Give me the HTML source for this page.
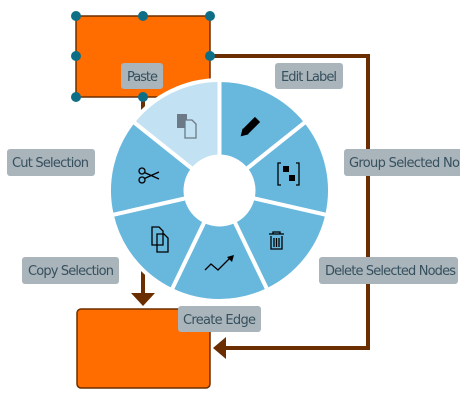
<!DOCTYPE html>
<html><head><meta charset="utf-8"><style>
html,body{margin:0;padding:0;background:#fff;width:460px;height:400px;overflow:hidden}
svg{display:block}
text{font-family:"DejaVu Sans","Liberation Sans",sans-serif;font-size:13px;fill:#37505e}
</style></head><body>
<svg id="s" width="460" height="400" viewBox="0 0 460 400">
<rect x="76" y="16" width="134" height="81" fill="#ff6c00" stroke="#6b2e00" stroke-width="1.5"/>
<rect x="77" y="309" width="133" height="79" rx="4" fill="#ff6c00" stroke="#6b2e00" stroke-width="1.5"/>
<polyline points="143,97 143,295" fill="none" stroke="#6b2e00" stroke-width="4"/>
<polygon points="131,293 155,293 143,306" fill="#6b2e00"/>
<polyline points="210,56 368,56 368,348 225,348" fill="none" stroke="#6b2e00" stroke-width="4"/>
<polygon points="226,337 226,359 213,348" fill="#6b2e00"/>
<g fill="#0e6e86">
<circle cx="76" cy="16" r="5"/><circle cx="143" cy="16" r="5"/><circle cx="210" cy="16" r="5"/>
<circle cx="76" cy="56" r="5"/><circle cx="210" cy="56" r="5"/>
<circle cx="76" cy="97" r="5"/><circle cx="143" cy="97" r="5"/>
</g>
<g id="wheel"></g>
<g id="icons" fill="none" stroke="#000" stroke-width="1.3"></g>
<g fill="#a9b4bb">
<rect x="121" y="63" width="42" height="26" rx="3"/>
<rect x="275" y="63" width="68" height="26" rx="3"/>
<rect x="7" y="149" width="88" height="27" rx="3"/>
<rect x="344" y="149" width="140" height="27" rx="3"/>
<rect x="22" y="257" width="97" height="27" rx="3"/>
<rect x="319" y="257" width="139" height="27" rx="3"/>
<rect x="178" y="306" width="83" height="26" rx="3"/>
</g>
<text x="127" y="81" textLength="31">Paste</text>
<text x="281" y="81" textLength="56">Edit Label</text>
<text x="12" y="167" textLength="77">Cut Selection</text>
<text x="349" y="167" textLength="132">Group Selected Nodes</text>
<text x="28" y="275" textLength="86">Copy Selection</text>
<text x="325" y="275" textLength="131">Delete Selected Nodes</text>
<text x="183" y="324" textLength="73">Create Edge</text>
</svg>
<script>
(function(){
var cx=219.5,cy=190.5,R=110.5,r=34,n=7,ns="http://www.w3.org/2000/svg";
var g=document.getElementById('wheel'),ic=document.getElementById('icons');
function pt(rad,a){return [cx+rad*Math.cos(a),cy+rad*Math.sin(a)];}
var step=2*Math.PI/n,start=-Math.PI/2;
for(var i=0;i<n;i++){
 var a0=start+i*step,a1=a0+step;
 var p1=pt(R,a0),p2=pt(R,a1),p3=pt(r,a1),p4=pt(r,a0);
 var d="M"+p1+" A"+R+","+R+" 0 0 1 "+p2+" L"+p3+" A"+r+","+r+" 0 0 0 "+p4+"Z";
 var p=document.createElementNS(ns,'path');
 p.setAttribute('d',d);p.setAttribute('fill',i==6?'#c2e1f2':'#68b7dd');
 p.setAttribute('stroke','#fff');p.setAttribute('stroke-width','4');p.setAttribute('stroke-linejoin','miter');
 g.appendChild(p);
}
var c=document.createElementNS(ns,'circle');c.setAttribute('cx',cx);c.setAttribute('cy',cy);c.setAttribute('r',r);c.setAttribute('fill','#fff');g.appendChild(c);
var icons=[
 '<g transform="translate(250,127) rotate(45)"><rect x="-3" y="-10" width="6" height="16" fill="#000"/><polygon points="-3,7 3,7 0,12" fill="#000"/></g>',
 '<path d="M281,163 h-3 v22 h3 M296,163 h3 v22 h-3" stroke="#000"/><rect x="283" y="166" width="6" height="6" fill="#000" stroke="none"/><rect x="289" y="175" width="6" height="6" fill="#000" stroke="none"/>',
 '<path d="M269,234 h15 M273,234 v-2 h7 v2 M271,236 v13 h11 v-13 M274,238 v9 M276.5,238 v9 M279,238 v9"/>',
 '<path d="M205,270 l6,-6 l7,6 l12,-12"/><polygon points="227,257 234,255 232,262" fill="#000" stroke="none"/>',
 '<path d="M152,227 h7 l4,4 v14 h-11z M157,234 h7 l4,4 v14 h-11z" fill="#68b7dd"/>',
 '<circle cx="142" cy="171" r="3"/><circle cx="142" cy="180" r="3"/><path d="M144.5,172.5 L159,179 M144.5,178.5 L159,172"/>',
 '<rect x="177" y="114" width="10" height="14" fill="#6b7a86" stroke="none"/><path d="M185,120 h7 l4,4 v14 h-11z" fill="#c2e1f2" stroke="#6b7a86"/>'
];
ic.innerHTML=icons.join('');
})();
</script>
</body></html>
